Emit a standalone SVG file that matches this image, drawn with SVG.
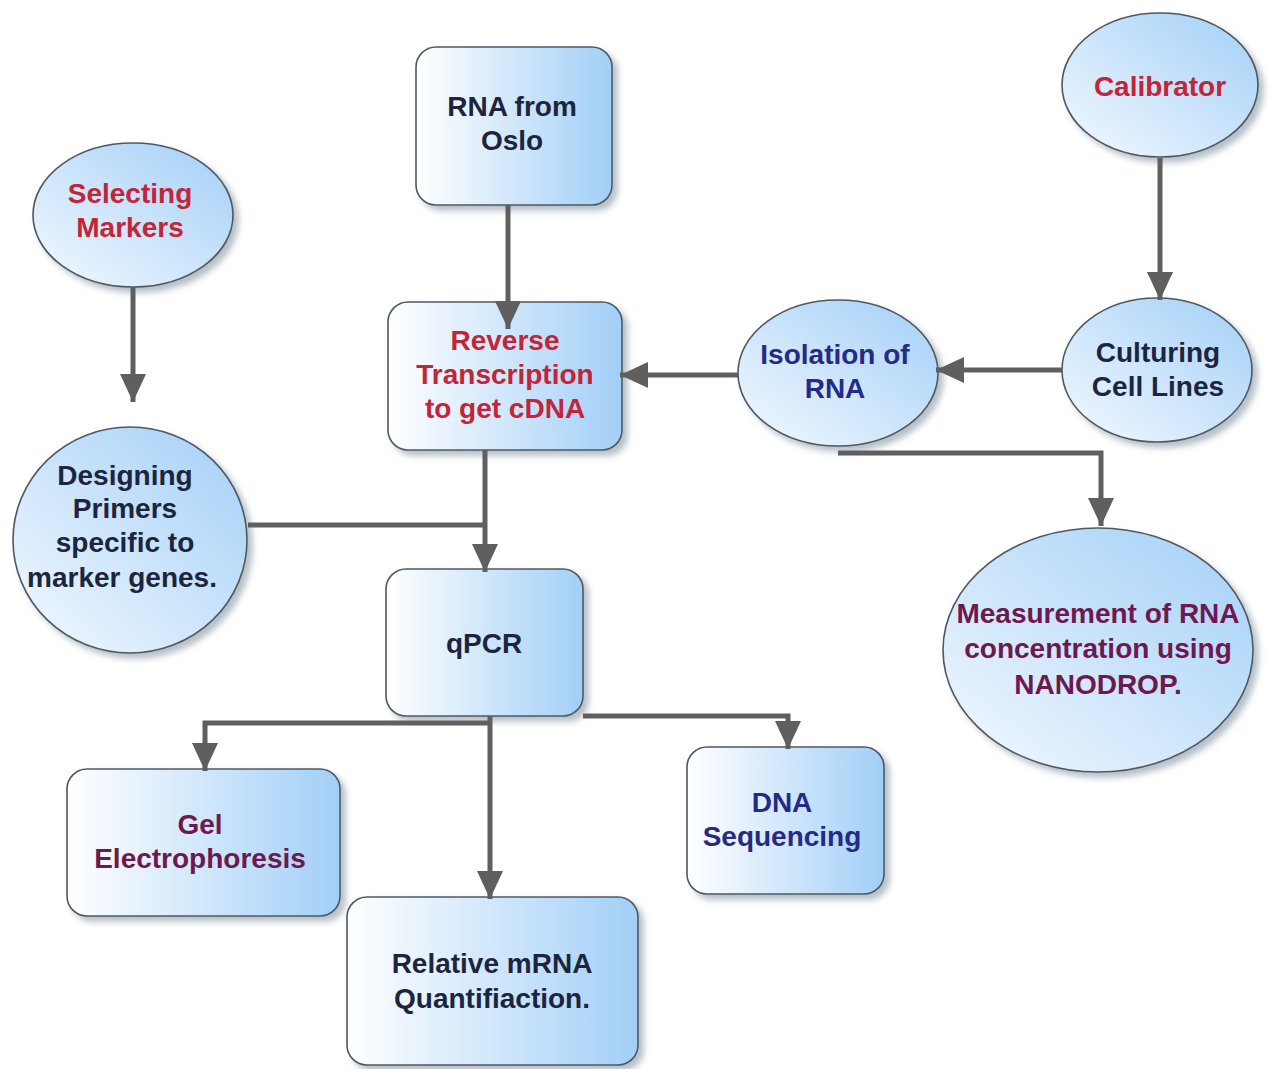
<svg xmlns="http://www.w3.org/2000/svg" width="1270" height="1069" viewBox="0 0 1270 1069">
<defs>
<linearGradient id="gr" x1="0" y1="0" x2="1" y2="0">
<stop offset="0" stop-color="#ffffff"/>
<stop offset="1" stop-color="#a2cff7"/>
</linearGradient>
<linearGradient id="ge" x1="0" y1="1" x2="1" y2="0">
<stop offset="0" stop-color="#f4f9ff"/>
<stop offset="1" stop-color="#a2cff7"/>
</linearGradient>
<filter id="sh" x="-10%" y="-10%" width="130%" height="130%">
<feDropShadow dx="5" dy="5" stdDeviation="3" flood-color="#7a8a9a" flood-opacity="0.55"/>
</filter>
<marker id="ah" markerUnits="userSpaceOnUse" markerWidth="30" markerHeight="30" viewBox="0 0 30 30" refX="28" refY="15" orient="auto">
<path d="M0,2 L28,15 L0,28 Z" fill="#5f5f5f"/>
</marker>
</defs>
<style>
.box{fill:url(#gr);stroke:#505860;stroke-width:1.6;filter:url(#sh)}
.ell{fill:url(#ge);stroke:#505860;stroke-width:1.6;filter:url(#sh)}
.t{font-family:"Liberation Sans",Arial,sans-serif;font-weight:bold;font-size:28px;text-anchor:middle}
.red{fill:#c32438}
.navy{fill:#1c2540}
.blue{fill:#262a86}
.pur{fill:#6e1850}
.c{fill:none;stroke:#5f5f5f;stroke-width:5}
</style>
<rect width="1270" height="1069" fill="#ffffff"/>

<g id="rna-oslo">
<rect class="box" x="416" y="47" width="196" height="158" rx="20"/>
<text class="t navy" x="512" y="116">RNA from</text>
<text class="t navy" x="512" y="150">Oslo</text>
</g>

<g id="reverse-transcription">
<rect class="box" x="388" y="302" width="234" height="148" rx="20"/>
<text class="t red" x="505" y="350">Reverse</text>
<text class="t red" x="505" y="384">Transcription</text>
<text class="t red" x="505" y="418">to get cDNA</text>
</g>

<g id="selecting-markers">
<ellipse class="ell" cx="133" cy="215" rx="100" ry="72"/>
<text class="t red" x="130" y="203">Selecting</text>
<text class="t red" x="130" y="237">Markers</text>
</g>

<g id="designing-primers">
<ellipse class="ell" cx="130" cy="540" rx="117" ry="113"/>
<text class="t navy" x="125" y="485">Designing</text>
<text class="t navy" x="125" y="518">Primers</text>
<text class="t navy" x="125" y="552">specific to</text>
<text class="t navy" x="122" y="587">marker genes.</text>
</g>

<g id="qpcr">
<rect class="box" x="386" y="569" width="197" height="147" rx="20"/>
<text class="t navy" x="484" y="653">qPCR</text>
</g>

<g id="calibrator">
<ellipse class="ell" cx="1160" cy="85" rx="98" ry="72"/>
<text class="t red" x="1160" y="96">Calibrator</text>
</g>

<g id="culturing">
<ellipse class="ell" cx="1157" cy="370" rx="95" ry="72"/>
<text class="t navy" x="1158" y="362">Culturing</text>
<text class="t navy" x="1158" y="396">Cell Lines</text>
</g>

<g id="isolation">
<ellipse class="ell" cx="838" cy="373" rx="100" ry="73"/>
<text class="t blue" x="835" y="364">Isolation of</text>
<text class="t blue" x="835" y="398">RNA</text>
</g>

<g id="measurement">
<ellipse class="ell" cx="1098" cy="650" rx="155" ry="122"/>
<text class="t pur" x="1098" y="623">Measurement of RNA</text>
<text class="t pur" x="1098" y="658">concentration using</text>
<text class="t pur" x="1098" y="694">NANODROP.</text>
</g>

<g id="gel">
<rect class="box" x="67" y="769" width="273" height="147" rx="20"/>
<text class="t pur" x="200" y="834">Gel</text>
<text class="t pur" x="200" y="868">Electrophoresis</text>
</g>

<g id="dna-seq">
<rect class="box" x="687" y="747" width="197" height="147" rx="20"/>
<text class="t blue" x="782" y="812">DNA</text>
<text class="t blue" x="782" y="846">Sequencing</text>
</g>

<g id="relative">
<rect class="box" x="347" y="897" width="291" height="168" rx="20"/>
<text class="t navy" x="492" y="973">Relative mRNA</text>
<text class="t navy" x="492" y="1008">Quantifiaction.</text>
</g>

<g id="connectors">
<path class="c" d="M508,205 V329" marker-end="url(#ah)"/>
<path class="c" d="M133,287 V402" marker-end="url(#ah)"/>
<path class="c" d="M1160,158 V300" marker-end="url(#ah)"/>
<path class="c" d="M1062,370 H936" marker-end="url(#ah)"/>
<path class="c" d="M738,375 H620" marker-end="url(#ah)"/>
<path class="c" d="M838,453 H1101 V526" marker-end="url(#ah)"/>
<path class="c" d="M248,525 H485"/>
<path class="c" d="M485,450 V572" marker-end="url(#ah)"/>
<path class="c" d="M490,723 H205 V771" marker-end="url(#ah)"/>
<path class="c" d="M583,716 H788 V749" marker-end="url(#ah)"/>
<path class="c" d="M490,716 V899" marker-end="url(#ah)"/>
</g>
</svg>
